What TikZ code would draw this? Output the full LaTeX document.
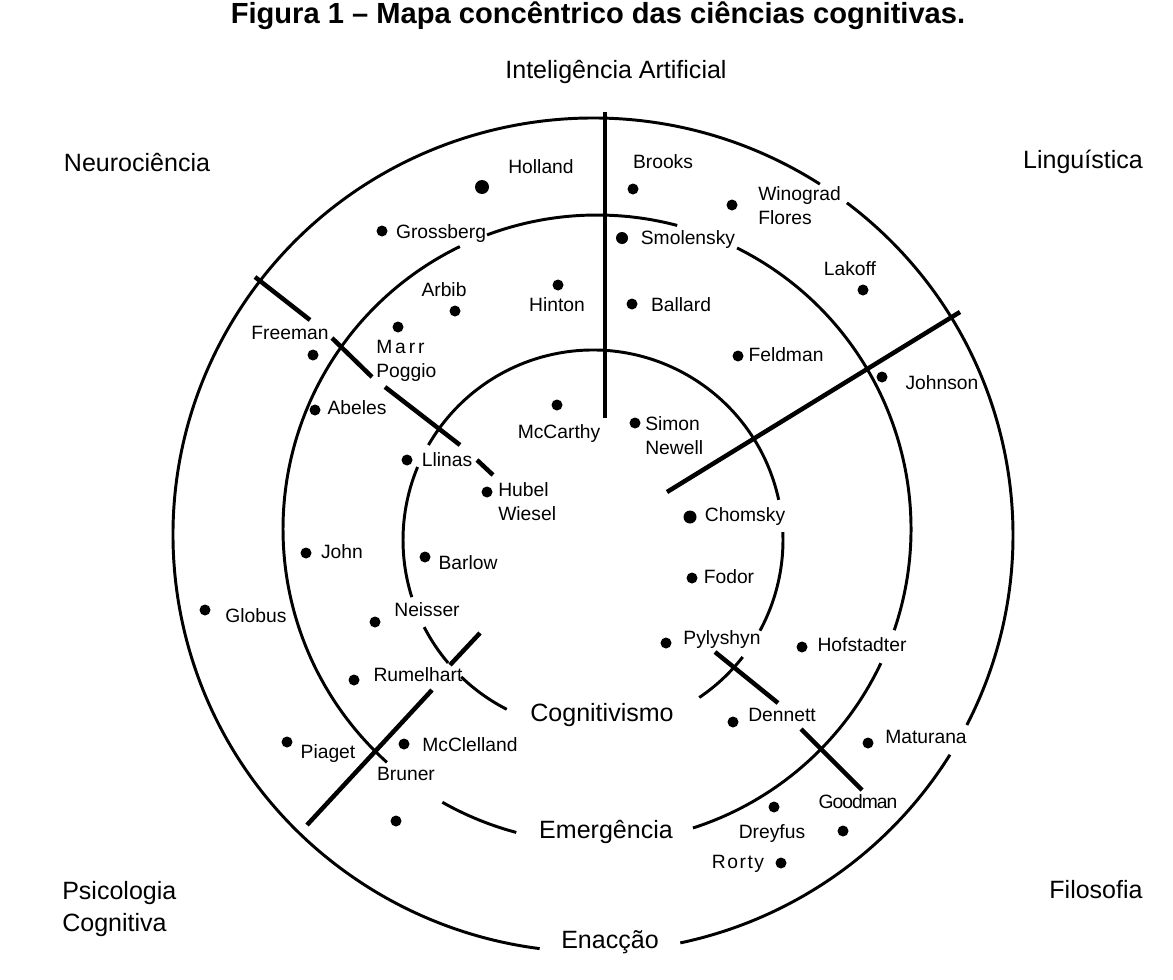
\documentclass[tikz,border=0pt]{standalone}
\usepackage{fontspec}
\setmainfont{Liberation Sans}
\usepackage{tikz}
\usetikzlibrary{calc}
\def\ringarc[#1](#2)(#3:#4:#5:#6){\draw[#1] ($(#2)+({#5*cos(#3)},{#6*sin(#3)})$) arc[start angle=#3, end angle=#4, x radius=#5, y radius=#6];}
\tikzset{
	ring/.style={line width=2.1pt},
	border/.style={line width=3.2pt},
	dot/.style={fill=black},
	who/.style={inner sep=0pt, font=\fontsize{13.7}{17}\selectfont, text height=9.8pt, text depth=0pt},
	whos/.style={inner sep=0pt, font=\fontsize{13.7}{17}\selectfont, align=left, anchor=north west},
	field/.style={inner sep=0pt, font=\fontsize{17.8}{22.8}\selectfont, text height=12.7pt, text depth=0pt},
	heading/.style={inner sep=0pt, font=\fontsize{20.7}{24}\selectfont\bfseries},
}

\begin{document}
\begin{tikzpicture}[x=0.025cm, y=0.025cm]
			%%%%% START %%%%%
			\useasboundingbox (0,0) rectangle (1173,-980);
			
			\node[heading, anchor=base] (title) at (598,-23) {Figura 1 – Mapa concêntrico das ciências cognitivas.};
			
			%%%%% RINGS %%%%%
			\coordinate (O) at (593,-535);
			\coordinate (M) at (597,-529);
			\coordinate (I) at (593,-540);
			
			\ringarc[ring](O)(57.3:262.7:420:417)
			\ringarc[ring](O)(282:328.2:420:417)
			\ringarc[ring](O)(332.9:412.8:420:417)
			
			\ringarc[ring](M)(75.2:110.5:314:314)
			\ringarc[ring](M)(115.9:228:314:314)
			\ringarc[ring](M)(240.5:255.1:314:314)
			\ringarc[ring](M)(287.8:334.7:314:314)
			\ringarc[ring](M)(341.2:423.5:314:314)
			
			\ringarc[ring](I)(12.2:150:190:190)
			\ringarc[ring](I)(157.4:197.5:190:190)
			\ringarc[ring](I)(207.3:220.3:190:190)
			\ringarc[ring](I)(226.1:243:190:190)
			\ringarc[ring](I)(304:322:190:190)
			\ringarc[ring](I)(331.5:362.4:190:190)
			
			%%%%% BORDERS %%%%%
			\draw[border] (605,-112) -- (605,-418);
			\draw[border] (667,-492) -- (960,-312);
			
			\draw[border] (255,-277) -- (310,-320);
			\draw[border] (332,-338) -- (372,-377);
			\draw[border] (385,-387) -- (460,-445);
			\draw[border] (477,-460) -- (493,-475);
			
			\draw[border] (307,-825) -- (432,-690);
			\draw[border] (450,-665) -- (480,-633);
			
			\draw[border] (715,-652) -- (778,-703);
			\draw[border] (801,-729) -- (862,-790);
			
			%%%%% FIELDS %%%%%
			\node[field] (ia) at (616,-70) {Inteligência Artificial};
			\node[field] (neuro) at (137,-163) {Neurociência};
			\node[field] (ling) at (1083,-160) {Linguística};
			\node[inner sep=0pt, font=\fontsize{17.8}{22.8}\selectfont, align=left, anchor=north west] (psico) at (62,-881) {Psicologia\\Cognitiva};
			\node[field] (filo) at (1096,-890) {Filosofia};
			\node[field] (enac) at (610,-940) {Enacção};
			\node[field] (emerg) at (606,-830) {Emergência};
			\node[field] (cogn) at (602,-713) {Cognitivismo};
			
			%%%%% OUTER RING %%%%%
			\fill[dot] (482,-187) circle (7);
			\node[who] (holland) at (541,-167) {Holland};
			\fill[dot] (382,-231) circle (5.5);
			\node[who] (grossberg) at (441,-232) {Grossberg};
			\fill[dot] (633,-189) circle (5.5);
			\node[who] (brooks) at (663,-162) {Brooks};
			\fill[dot] (732,-205) circle (5.5);
			\node[whos] (winograd) at (758,-186) {Winograd\\Flores};
			\fill[dot] (863,-290) circle (5.5);
			\node[who] (lakoff) at (850,-269) {Lakoff};
			\fill[dot] (882,-377) circle (5.5);
			\node[who] (johnson) at (942,-383) {Johnson};
			\fill[dot] (313,-355) circle (5.5);
			\node[who] (freeman) at (290,-333) {Freeman};
			\fill[dot] (205,-610) circle (5.5);
			\node[who] (globus) at (256,-616) {Globus};
			\fill[dot] (287,-742) circle (5.5);
			\node[who] (piaget) at (328,-752) {Piaget};
			\fill[dot] (868,-743) circle (5.5);
			\node[who] (maturana) at (926,-737) {Maturana};
			\fill[dot] (843,-831) circle (5.5);
			\node[who] (goodman) at (858,-802) {\addfontfeature{LetterSpace=-5}Goodman};
			
			%%%%% MIDDLE RING %%%%%
			\fill[dot] (622,-238) circle (6);
			\node[who] (smolensky) at (688,-238) {Smolensky};
			\fill[dot] (632,-304) circle (5.5);
			\node[who] (ballard) at (681,-305) {Ballard};
			\fill[dot] (558,-285) circle (5.5);
			\node[who] (hinton) at (557,-305) {Hinton};
			\fill[dot] (455,-311) circle (5.5);
			\node[who] (arbib) at (444,-290) {Arbib};
			\fill[dot] (398,-327) circle (5.5);
			\node[whos] (marr) at (376,-340) {{\addfontfeature{LetterSpace=15}Marr}\\Poggio};
			\fill[dot] (738,-356) circle (5.5);
			\node[who] (feldman) at (786,-355) {Feldman};
			\fill[dot] (315,-410) circle (5.5);
			\node[who] (abeles) at (357,-408) {Abeles};
			\fill[dot] (306,-553) circle (5.5);
			\node[who] (john) at (342,-552) {John};
			\fill[dot] (375,-622) circle (5.5);
			\node[who] (neisser) at (427,-610) {Neisser};
			\fill[dot] (354,-680) circle (5.5);
			\node[who] (rumelhart) at (418,-675) {Rumelhart};
			\fill[dot] (404,-744) circle (5.5);
			\node[who] (mcclelland) at (470,-745) {McClelland};
			\fill[dot] (396,-821) circle (5.5);
			\node[who] (bruner) at (406,-774) {Bruner};
			\fill[dot] (802,-647) circle (5.5);
			\node[who] (hofstadter) at (862,-645) {Hofstadter};
			\fill[dot] (733,-722) circle (5.5);
			\node[who] (dennett) at (782,-715) {Dennett};
			\fill[dot] (774,-807) circle (5.5);
			\node[who] (dreyfus) at (772,-832) {Dreyfus};
			\fill[dot] (781,-863) circle (5.5);
			\node[who] (rorty) at (738,-862) {\addfontfeature{LetterSpace=8}Rorty};
			
			%%%%% INNER RING %%%%%
			\fill[dot] (557,-405) circle (5.5);
			\node[who] (mccarthy) at (559,-432) {McCarthy};
			\fill[dot] (635,-423) circle (5.5);
			\node[whos] (simon) at (645,-416) {Simon\\Newell};
			\fill[dot] (407,-460) circle (5.5);
			\node[who] (llinas) at (447,-460) {Llinas};
			\fill[dot] (487,-492) circle (5.5);
			\node[whos] (hubel) at (498,-482) {Hubel\\Wiesel};
			\fill[dot] (425,-557) circle (5.5);
			\node[who] (barlow) at (468,-563) {Barlow};
			\fill[dot] (690,-517) circle (6.5);
			\node[who] (chomsky) at (745,-515) {Chomsky};
			\fill[dot] (692,-578) circle (5.5);
			\node[who] (fodor) at (729,-577) {Fodor};
			\fill[dot] (666,-643) circle (5.5);
			\node[who] (pylyshyn) at (722,-638) {Pylyshyn};
			
			%%%%% END %%%%%
\end{tikzpicture}
\end{document}
